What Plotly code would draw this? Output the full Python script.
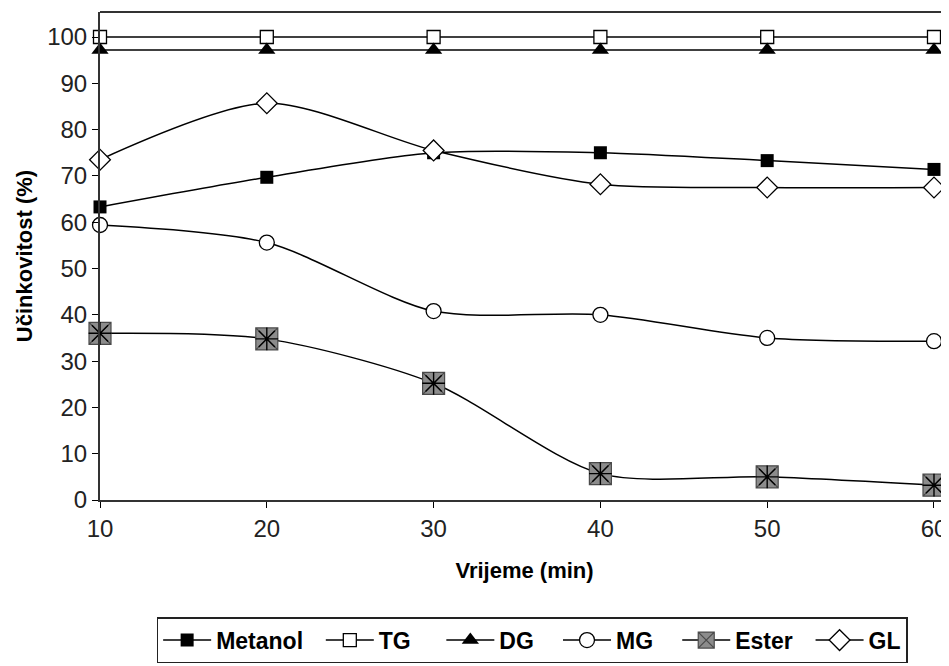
import plotly.graph_objects as go

time = [10, 20, 30, 40, 50, 60]
metanol = [63.3, 69.7, 75.0, 75.0, 73.3, 71.4]
tg = [100, 100, 100, 100, 100, 100]
dg = [97.2, 97.2, 97.2, 97.2, 97.2, 97.2]
mg = [59.4, 55.6, 40.8, 40.0, 35.0, 34.3]
ester = [36.0, 34.8, 25.2, 5.7, 5.0, 3.2]
gl = [73.5, 85.7, 75.5, 68.2, 67.5, 67.5]

FONT = "Arial, Liberation Sans, sans-serif"
line = dict(color="black", width=1.5, shape="spline", smoothing=0.8)

def label(name, pad):
    return "<b>" + name + "</b>" + "&nbsp;" * pad

fig = go.Figure()
fig.add_trace(go.Scatter(x=time, y=metanol, name=label("Metanol", 2), mode="lines+markers",
                         line=line, marker=dict(symbol="square", size=13, color="black"), cliponaxis=False))
fig.add_trace(go.Scatter(x=time, y=tg, name=label("TG", 4), mode="lines+markers",
                         line=line, marker=dict(symbol="square", size=13, color="white", line=dict(color="black", width=1.3)), cliponaxis=False))
fig.add_trace(go.Scatter(x=time, y=dg, name=label("DG", 3), mode="lines+markers",
                         line=line, marker=dict(symbol="triangle-up", size=15, color="black"), cliponaxis=False))
fig.add_trace(go.Scatter(x=time, y=mg, name=label("MG", 3), mode="lines+markers",
                         line=line, marker=dict(symbol="circle", size=15, color="white", line=dict(color="black", width=1.3)), cliponaxis=False))
fig.add_trace(go.Scatter(x=time, y=ester, name=label("Ester", 2), mode="lines+markers",
                         line=line, marker=dict(symbol="square-x", size=22, color="#8c8c8c", line=dict(color="#4a4a4a", width=1.2)), cliponaxis=False))
fig.add_trace(go.Scatter(x=time, y=ester, name="Ester", mode="markers", showlegend=False,
                         marker=dict(symbol="asterisk-open", size=19, color="black", line=dict(color="black", width=1.4)), cliponaxis=False))
fig.add_trace(go.Scatter(x=time, y=gl, name=label("GL", 0), mode="lines+markers",
                         line=line, marker=dict(symbol="diamond", size=16, color="white", line=dict(color="black", width=1.3)), cliponaxis=False))

fig.update_layout(
    width=941, height=658,
    margin=dict(l=92, r=0, t=4, b=166, autoexpand=False),
    plot_bgcolor="white", paper_bgcolor="white",
    font=dict(family=FONT, color="#222"),
    xaxis=dict(range=[10, 60.9], tickvals=[10, 20, 30, 40, 50, 60], ticks="outside", ticklen=6,
               tickcolor="black", showline=True, linecolor="#333", linewidth=2, mirror=False,
               showgrid=False, zeroline=False, tickfont=dict(size=24, color="#222"), automargin=False,
               title=dict(text="<b>Vrijeme (min)</b>", font=dict(size=22, color="black"), standoff=22)),
    yaxis=dict(range=[0, 105.4], tickvals=list(range(0, 101, 10)), ticks="outside", ticklen=6,
               tickcolor="black", showline=True, linecolor="#333", linewidth=2, automargin=False,
               showgrid=False, zeroline=False, tickfont=dict(size=24, color="#222"),
               title=dict(text="<b>Učinkovitost (%)</b>", font=dict(size=22, color="black"), standoff=8)),
    legend=dict(orientation="h", x=0.509, xanchor="center", y=-0.24, yanchor="top",
                bordercolor="#222", borderwidth=1.5, font=dict(size=23, color="black", family=FONT),
                itemwidth=48),
    showlegend=True,
)
fig.add_shape(type="line", xref="paper", yref="paper", x0=0, x1=1, y0=1, y1=1,
              line=dict(color="#333", width=2))
fig.write_html("out.html")
